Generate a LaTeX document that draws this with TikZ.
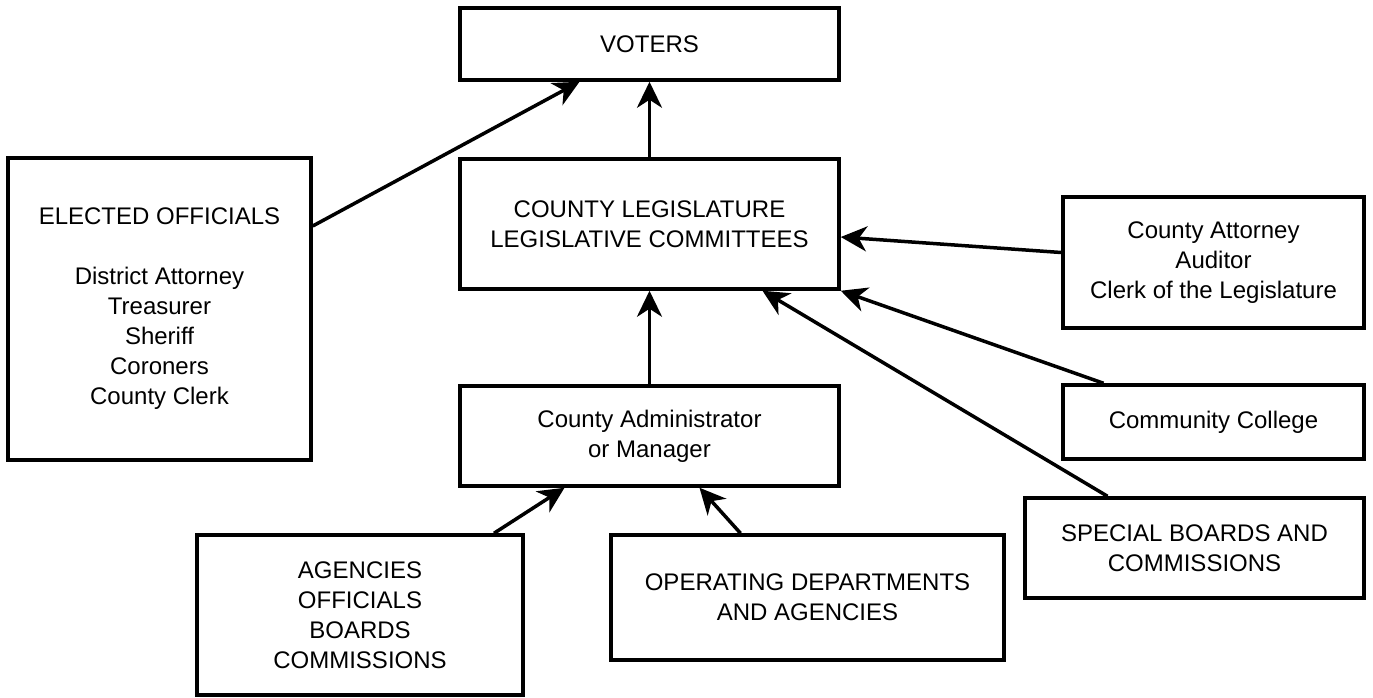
\documentclass[tikz,border=0pt]{standalone}
\usepackage{fontspec}
\setmainfont{Liberation Sans}
\usetikzlibrary{arrows.meta, positioning}

\begin{document}
\begin{tikzpicture}[x=1pt, y=-1pt]
        \tikzstyle{box} = [rectangle, draw, line width=3.5pt, align=center, inner sep=0pt, font=\fontsize{24}{30}\selectfont]
        \tikzstyle{link} = [line width=3.5pt, -{Stealth[length=26pt, width=25pt, inset=8pt]}]
        \useasboundingbox (0,0) rectangle (1373,697);

        \node (voters) [box, minimum width=379pt, minimum height=72pt] at (649.5,44) {VOTERS};
        \node (legislature) [box, minimum width=379pt, minimum height=130pt] at (649.5,224) {
            COUNTY LEGISLATURE \\
            LEGISLATIVE COMMITTEES
        };
        \node (elected) [box, minimum width=303pt, minimum height=302pt] at (159.5,309) {
            ELECTED OFFICIALS \\
            \\
            District Attorney \\
            Treasurer \\
            Sheriff \\
            Coroners \\
            County Clerk
        };
        \node (attorney) [box, minimum width=301pt, minimum height=131pt] at (1213.5,262.5) {
            County Attorney \\
            Auditor \\
            Clerk of the Legislature
        };
        \node (college) [box, minimum width=301pt, minimum height=74pt] at (1213.5,422) {Community College};
        \node (special) [box, minimum width=339pt, minimum height=100pt] at (1194.5,548) {
            SPECIAL BOARDS AND \\
            COMMISSIONS
        };
        \node (admin) [box, minimum width=379pt, minimum height=100pt] at (649.5,436) {
            County Administrator \\
            or Manager
        };
        \node (agencies) [box, minimum width=326pt, minimum height=160pt] at (360,615) {
            AGENCIES \\
            OFFICIALS \\
            BOARDS \\
            COMMISSIONS
        };
        \node (operating) [box, minimum width=393pt, minimum height=125pt] at (807.5,597.5) {
            OPERATING DEPARTMENTS \\
            AND AGENCIES
        };

        \draw [link] ([yshift=83pt]elected.east) -- ([xshift=-70pt]voters.south);
        \draw [link] (legislature.north) -- (voters.south);
        \draw [link] ([yshift=10pt]attorney.west) -- ([yshift=-13pt]legislature.east);
        \draw [link] ([xshift=-110pt]college.north) -- (legislature.south east);
        \draw [link] ([xshift=-87pt]special.north) -- ([xshift=113pt]legislature.south);
        \draw [link] (admin.north) -- (legislature.south);
        \draw [link] ([xshift=134pt]agencies.north) -- ([xshift=-85pt]admin.south);
        \draw [link] ([xshift=-67pt]operating.north) -- ([xshift=50pt]admin.south);
    \end{tikzpicture}
\end{document}
